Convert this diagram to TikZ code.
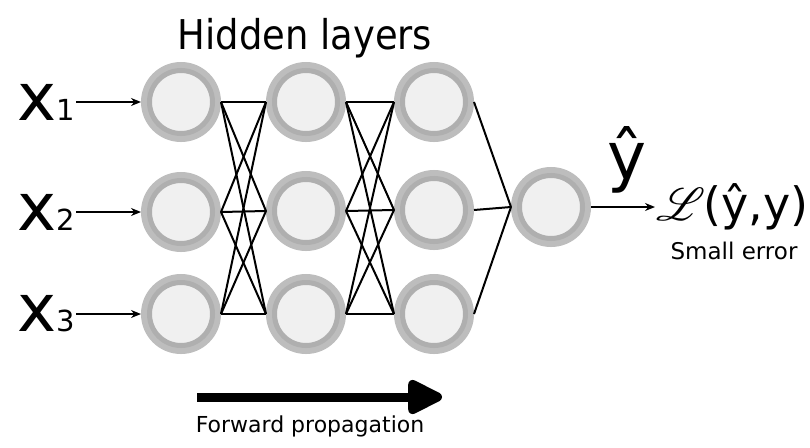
\documentclass[tikz,border=0pt]{standalone}
\usepackage{fontspec}
\usepackage{mathrsfs}
\usepackage{graphicx}
\setmainfont{DejaVu Sans}
\newfontfamily\condfont{DejaVu Sans Condensed}
\usetikzlibrary{arrows.meta}

\definecolor{ringlight}{HTML}{BDBDBD}
\definecolor{ringdark}{HTML}{AFAFAF}
\definecolor{corefill}{HTML}{F0F0F0}

\tikzset{
  neuron/.style={circle,minimum size=63pt,inner sep=0pt,outer sep=8.5pt,
    fill=corefill,draw=ringdark,line width=5pt,
    preaction={draw=ringlight,line width=17pt}},
  inlabel/.style={inner sep=1pt,anchor=east,font=\fontsize{66}{66}\selectfont},
  link/.style={line width=2pt},
  feed/.style={line width=1.7pt,-{Stealth[length=10pt,width=8pt]}}
}

\begin{document}
\begin{tikzpicture}[x=1pt,y=-1pt]
  \useasboundingbox (0,0) rectangle (810,447);

  % neurons
  \node[neuron] (h11) at (181,102) {};
  \node[neuron] (h12) at (181,212) {};
  \node[neuron] (h13) at (181,314) {};
  \node[neuron] (h21) at (306,102) {};
  \node[neuron] (h22) at (306,211) {};
  \node[neuron] (h23) at (306,314) {};
  \node[neuron] (h31) at (434,102) {};
  \node[neuron] (h32) at (434,210) {};
  \node[neuron] (h33) at (434,314) {};
  \node[neuron] (out) at (551,207) {};

  % inputs
  \node[inlabel] (x1) at (76,102) {x{\fontsize{29}{29}\selectfont 1}};
  \node[inlabel] (x2) at (76,212) {x{\fontsize{29}{29}\selectfont 2}};
  \node[inlabel] (x3) at (76,314) {x{\fontsize{29}{29}\selectfont 3}};
  \foreach \i in {1,2,3}
    \draw[feed] (x\i) -- (h1\i);

  % weights
  \foreach \i in {1,2,3}
    \foreach \j in {1,2,3} {
      \draw[link] (h1\i.east) -- (h2\j.west);
      \draw[link] (h2\i.east) -- (h3\j.west);
    }
  \foreach \i in {1,2,3}
    \draw[link] (h3\i.east) -- (out.west);

  % output
  \node[inner sep=1pt,anchor=west,font=\fontsize{46}{46}\selectfont] (loss) at (655,207)
    {\scalebox{1.85}{$\mathscr{L}$}\kern-2pt(ŷ,y)};
  \draw[feed] (out) -- (loss);
  \node[font=\fontsize{66}{66}\selectfont] (yhat) at (627,160) {ŷ};
  \node[font=\fontsize{23}{23}\selectfont] (err) at (734,251) {Small error};

  \node[font=\condfont\fontsize{41}{41}\selectfont] (title) at (305,38) {Hidden layers};

  % forward pass
  \coordinate (fwdstart) at (197,397);
  \coordinate (fwdend) at (442,397);
  \draw[line width=9pt,-{Triangle[length=40pt,width=37pt,round]}] (fwdstart) -- (fwdend);
  \node[font=\fontsize{22}{22}\selectfont] (fwd) at (310,426) {Forward propagation};

\end{tikzpicture}
\end{document}
